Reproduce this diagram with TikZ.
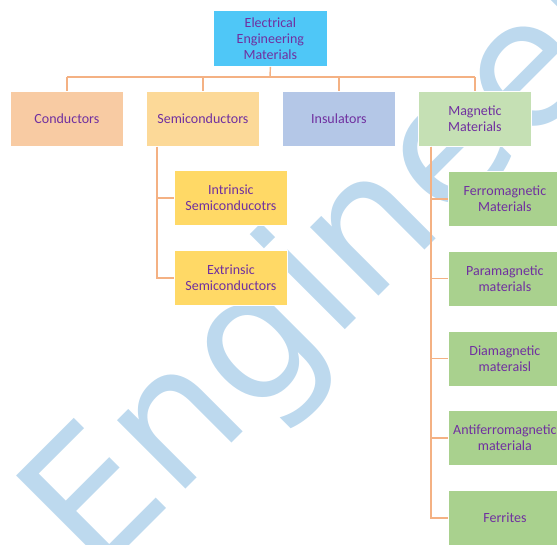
\documentclass[tikz,border=0pt]{standalone}
\usepackage{fontspec}
\setmainfont{Carlito}
\newfontfamily\markfont{DejaVu Sans}
\definecolor{txt}{RGB}{112,48,160}
\definecolor{lnk}{RGB}{244,177,131}
\definecolor{wmark}{RGB}{189,217,238}
\definecolor{rootc}{RGB}{79,199,247}
\definecolor{condc}{RGB}{248,203,163}
\definecolor{semic}{RGB}{252,217,152}
\definecolor{insuc}{RGB}{180,199,231}
\definecolor{magnc}{RGB}{197,224,180}
\definecolor{subsc}{RGB}{255,217,102}
\definecolor{submc}{RGB}{169,209,142}
\usetikzlibrary{calc}

\tikzset{
  box/.style={draw=white, line width=0.8pt, minimum width=113pt, minimum height=55pt,
    inner sep=1pt, align=center, anchor=north west, text=txt,
    font=\fontsize{14}{16}\selectfont},
  link/.style={draw=lnk, line width=1.4pt},
}

\begin{document}
\begin{tikzpicture}[x=1pt,y=-1pt]
    \useasboundingbox (0,0) rectangle (557,544);
    \clip (0,0) rectangle (557,544);

    % watermark behind the chart
    \node[text=wmark, font=\markfont\fontsize{177}{177}\selectfont, rotate=45, anchor=base west, inner sep=0] (mark) at (95,580) {Engineering};

    % root
    \node[box, fill=rootc, minimum width=114pt, minimum height=56pt] (eem) at (213,10) {Electrical\\Engineering\\Materials};

    % first row
    \node[box, fill=condc] (cond) at (10,91) {Conductors};
    \node[box, fill=semic] (semi) at (146,91) {Semiconductors};
    \node[box, fill=insuc] (insu) at (282,91) {Insulators};
    \node[box, fill=magnc] (magn) at (418,91) {Magnetic\\Materials};

    % semiconductors
    \node[box, fill=subsc] (intr) at (174,170) {Intrinsic\\Semiconducotrs};
    \node[box, fill=subsc] (extr) at (174,250) {Extrinsic\\Semiconductors};

    % magnetic materials
    \node[box, fill=submc] (ferro) at (448,171) {Ferromagnetic\\Materials};
    \node[box, fill=submc] (para) at (448,250.75) {Paramagnetic\\materials};
    \node[box, fill=submc] (dia) at (448,330.5) {Diamagnetic\\materaisl};
    \node[box, fill=submc] (anti) at (448,410.25) {Antiferromagnetic\\materiala};
    \node[box, fill=submc] (ferr) at (448,490) {Ferrites};

    % connectors
    \coordinate (bus) at (270,77);
    \draw[link] (eem.south) -- (bus);
    \draw[link] (bus -| cond.north) -- (bus -| magn.north);
    \foreach \n in {cond,semi,insu,magn}
        \draw[link] (bus -| \n.north) -- (\n.north);

    \coordinate (semiS) at ($(semi.south west)+(11,0)$);
    \foreach \n in {intr,extr}
        \draw[link] (semiS) |- (\n.west);

    \coordinate (magnS) at ($(magn.south west)+(13,0)$);
    \foreach \n in {ferro,para,dia,anti,ferr}
        \draw[link] (magnS) |- (\n.west);
\end{tikzpicture}
\end{document}
